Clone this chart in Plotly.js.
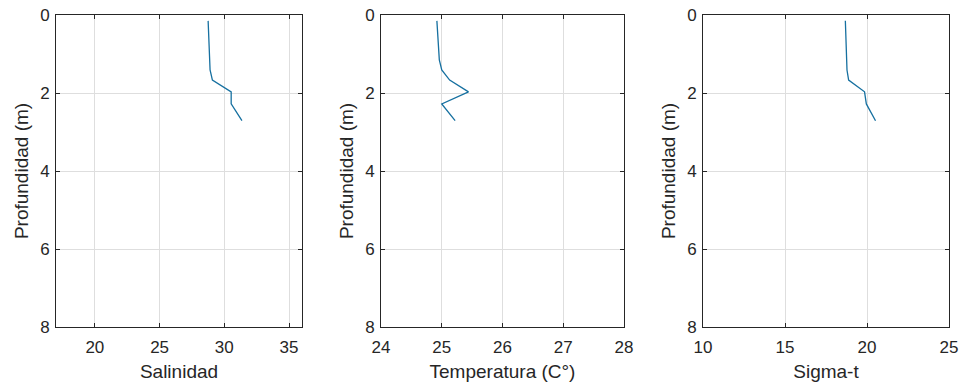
<!DOCTYPE html>
<html>
<head>
<meta charset="utf-8">
<script src="https://cdn.plot.ly/plotly-3.0.1.min.js"></script>
<style>html,body{margin:0;padding:0;background:#fff;}#chart{width:968px;height:390px;}</style>
</head>
<body>
<div id="chart"></div>
<script>
const depth = [0.15, 0.40, 0.65, 0.90, 1.15, 1.41, 1.67, 1.97, 2.28, 2.71];
const salinidad = [28.75, 28.77, 28.80, 28.83, 28.86, 28.90, 29.08, 30.53, 30.53, 31.36];
const temperatura = [24.92, 24.93, 24.94, 24.95, 24.96, 25.00, 25.13, 25.44, 25.00, 25.22];
const sigmat = [18.68, 18.70, 18.72, 18.74, 18.76, 18.78, 18.88, 19.85, 19.96, 20.52];

const xTitles = ["Salinidad", "Temperatura (C°)", "Sigma-t"];
const yTitle = "Profundidad (m)";
const xRanges = [[17, 36], [24, 28], [10, 25]];
const xTicks = [[20, 25, 30, 35], [24, 25, 26, 27, 28], [10, 15, 20, 25]];
const yTicks = [0, 2, 4, 6, 8];

const series = [salinidad, temperatura, sigmat];
const domains = [[56/968, 302/968], [381/968, 624/968], [703/968, 949/968]];
const yDomain = [1 - 327/390, 1 - 15/390];

const txt = '#262626';
const font = {family: 'Liberation Sans, Arial, sans-serif', size: 17, color: txt};

const data = series.map((s, i) => ({
  type: 'scatter', mode: 'lines',
  x: s, y: depth,
  xaxis: i === 0 ? 'x' : 'x' + (i + 1),
  yaxis: i === 0 ? 'y' : 'y' + (i + 1),
  line: {color: '#1670a0', width: 1.3},
  hoverinfo: 'none'
}));

const layout = {
  width: 968, height: 390,
  margin: {l: 0, r: 0, t: 0, b: 0},
  paper_bgcolor: '#fff', plot_bgcolor: '#fff',
  showlegend: false,
  font: font
};

for (let i = 0; i < 3; i++) {
  const xs = i === 0 ? '' : String(i + 1);
  layout['xaxis' + xs] = {
    domain: domains[i],
    anchor: 'y' + xs,
    range: xRanges[i],
    tickvals: xTicks[i],
    ticktext: xTicks[i].map(String),
    ticks: 'inside', ticklen: 4, tickcolor: txt,
    showline: true, linecolor: txt, linewidth: 1, mirror: 'ticks',
    showgrid: true, gridcolor: '#dedede', gridwidth: 1,
    zeroline: false,
    tickfont: {size: 17, color: txt},
    ticklabelstandoff: 5,
    title: {text: xTitles[i], font: {size: 19, color: txt}, standoff: 8},
    fixedrange: true
  };
  layout['yaxis' + xs] = {
    domain: yDomain,
    anchor: 'x' + xs,
    range: [8, 0],
    tickvals: yTicks,
    ticktext: yTicks.map(String),
    ticks: 'inside', ticklen: 4, tickcolor: txt,
    showline: true, linecolor: txt, linewidth: 1, mirror: 'ticks',
    showgrid: true, gridcolor: '#dedede', gridwidth: 1,
    zeroline: false,
    tickfont: {size: 17, color: txt},
    ticklabelstandoff: 2,
    title: {text: yTitle, font: {size: 19, color: txt}, standoff: 6},
    fixedrange: true
  };
}

Plotly.newPlot('chart', data, layout, {staticPlot: true, displayModeBar: false});
</script>
</body>
</html>
